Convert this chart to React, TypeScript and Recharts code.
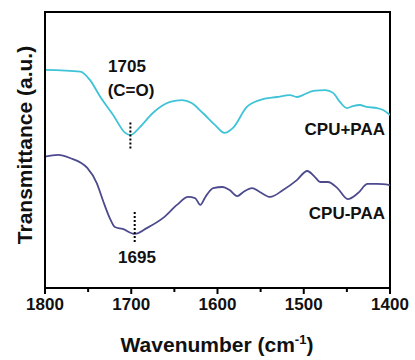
import { LineChart, Line, XAxis, YAxis, ReferenceLine, ReferenceArea } from "recharts";

// CPU+PAA spectrum (wavenumber, transmittance a.u.)
const plusWavenumbers = [
  1800, 1759, 1748, 1736, 1721, 1707, 1701, 1690, 1675, 1655, 1641, 1630, 1617, 1603, 1592, 1582, 1566,
  1551, 1531, 1516, 1508, 1501, 1489, 1475, 1466, 1458, 1450, 1443, 1435, 1427, 1415, 1408, 1400,
];
const plusValues = [
  79.0, 78.4, 75.4, 69.3, 62.7, 56.2, 55.4, 58.3, 63.4, 67.4, 68.1, 67.0, 63.4, 59.1, 56.2, 58.0, 65.6,
  68.1, 69.2, 69.9, 69.2, 69.9, 71.4, 71.7, 70.7, 67.4, 65.2, 65.9, 66.3, 65.6, 65.2, 64.5, 62.7,
];

// CPU-PAA spectrum
const minusWavenumbers = [
  1800, 1785, 1771, 1751, 1740, 1733, 1725, 1719, 1710, 1696, 1682, 1663, 1647, 1634, 1626, 1620, 1614,
  1605, 1594, 1586, 1577, 1570, 1560, 1551, 1539, 1524, 1508, 1496, 1487, 1481, 1472, 1461, 1449, 1437,
  1426, 1415, 1400,
];
const minusValues = [
  47.6, 48.2, 47.1, 43.5, 38.0, 31.9, 25.4, 22.1, 21.4, 19.6, 21.7, 25.4, 30.1, 33.0, 32.6, 30.1, 33.0,
  36.2, 36.6, 35.5, 33.3, 34.8, 36.2, 34.8, 33.0, 35.5, 39.1, 42.4, 40.2, 38.4, 38.4, 36.2, 32.2, 34.4,
  37.7, 37.7, 37.3,
];

const xTicks = [1800, 1750, 1700, 1650, 1600, 1550, 1500, 1450, 1400];

const plusData = plusWavenumbers.map((wn, i) => ({ wn, t: plusValues[i] }));
const minusData = minusWavenumbers.map((wn, i) => ({ wn, t: minusValues[i] }));

const FONT = "'Liberation Sans', Arial, sans-serif";

function WnTick({ x, y, payload }: any) {
  const major = payload.value % 100 === 0;
  return (
    <g>
      <line x1={x} x2={x} y1={y} y2={y + (major ? 6 : 4)} stroke="#000" strokeWidth={2} />
      {major && (
        <text x={x} y={y + 22} textAnchor="middle" fontFamily={FONT} fontWeight="bold" fontSize={17} fill="#111">
          {payload.value}
        </text>
      )}
    </g>
  );
}

const labelStyle = { fontFamily: FONT, fontWeight: "bold" as const, fontSize: 17, fill: "#111" };

export default function App() {
  return (
    <div style={{ position: "absolute", left: 0, top: 0, background: "#fff" }}>
      <LineChart width={415} height={360} margin={{ top: 12, right: 25, bottom: 0, left: 0 }}>
        <XAxis
          dataKey="wn"
          type="number"
          domain={[1400, 1800]}
          reversed
          ticks={xTicks}
          allowDataOverflow
          height={72}
          tickSize={0}
          tickMargin={0}
          tick={<WnTick />}
          axisLine={{ stroke: "#000", strokeWidth: 2 }}
        />
        <YAxis type="number" domain={[0, 100]} width={45} tick={false} tickLine={false} axisLine={{ stroke: "#000", strokeWidth: 2 }} />
        <ReferenceArea x1={1800} x2={1400} y1={0} y2={100} stroke="#000" strokeWidth={2} fill="none" fillOpacity={0} />
        <Line data={plusData} dataKey="t" type="monotone" stroke="#3fc3d6" strokeWidth={1.8} dot={false} isAnimationActive={false} />
        <Line data={minusData} dataKey="t" type="monotone" stroke="#4d4a8e" strokeWidth={1.8} dot={false} isAnimationActive={false} />
        <ReferenceLine
          segment={[{ x: 1701, y: 60 }, { x: 1701, y: 50 }]}
          stroke="#000"
          strokeWidth={2}
          strokeDasharray="2 2"
        />
        <ReferenceLine
          segment={[{ x: 1696, y: 27.5 }, { x: 1696, y: 16.3 }]}
          stroke="#000"
          strokeWidth={2}
          strokeDasharray="2 2"
        />
        <text x={127} y={72} textAnchor="middle" {...labelStyle}>1705</text>
        <text x={131} y={96} textAnchor="middle" {...labelStyle}>(C=O)</text>
        <text x={137} y={263} textAnchor="middle" {...labelStyle}>1695</text>
        <text x={385} y={135} textAnchor="end" {...labelStyle}>CPU+PAA</text>
        <text x={385} y={219} textAnchor="end" {...labelStyle}>CPU-PAA</text>
        <text x={217} y={352} textAnchor="middle" fontFamily={FONT} fontWeight="bold" fontSize={21} fill="#111">
          <tspan>Wavenumber (cm</tspan>
          <tspan dy={-8} fontSize={13}>-1</tspan>
          <tspan dy={8}>)</tspan>
        </text>
        <text
          x={32}
          y={145}
          transform="rotate(-90, 32, 145)"
          textAnchor="middle"
          fontFamily={FONT}
          fontWeight="bold"
          fontSize={21}
          fill="#111"
        >
          Transmittance (a.u.)
        </text>
      </LineChart>
    </div>
  );
}
